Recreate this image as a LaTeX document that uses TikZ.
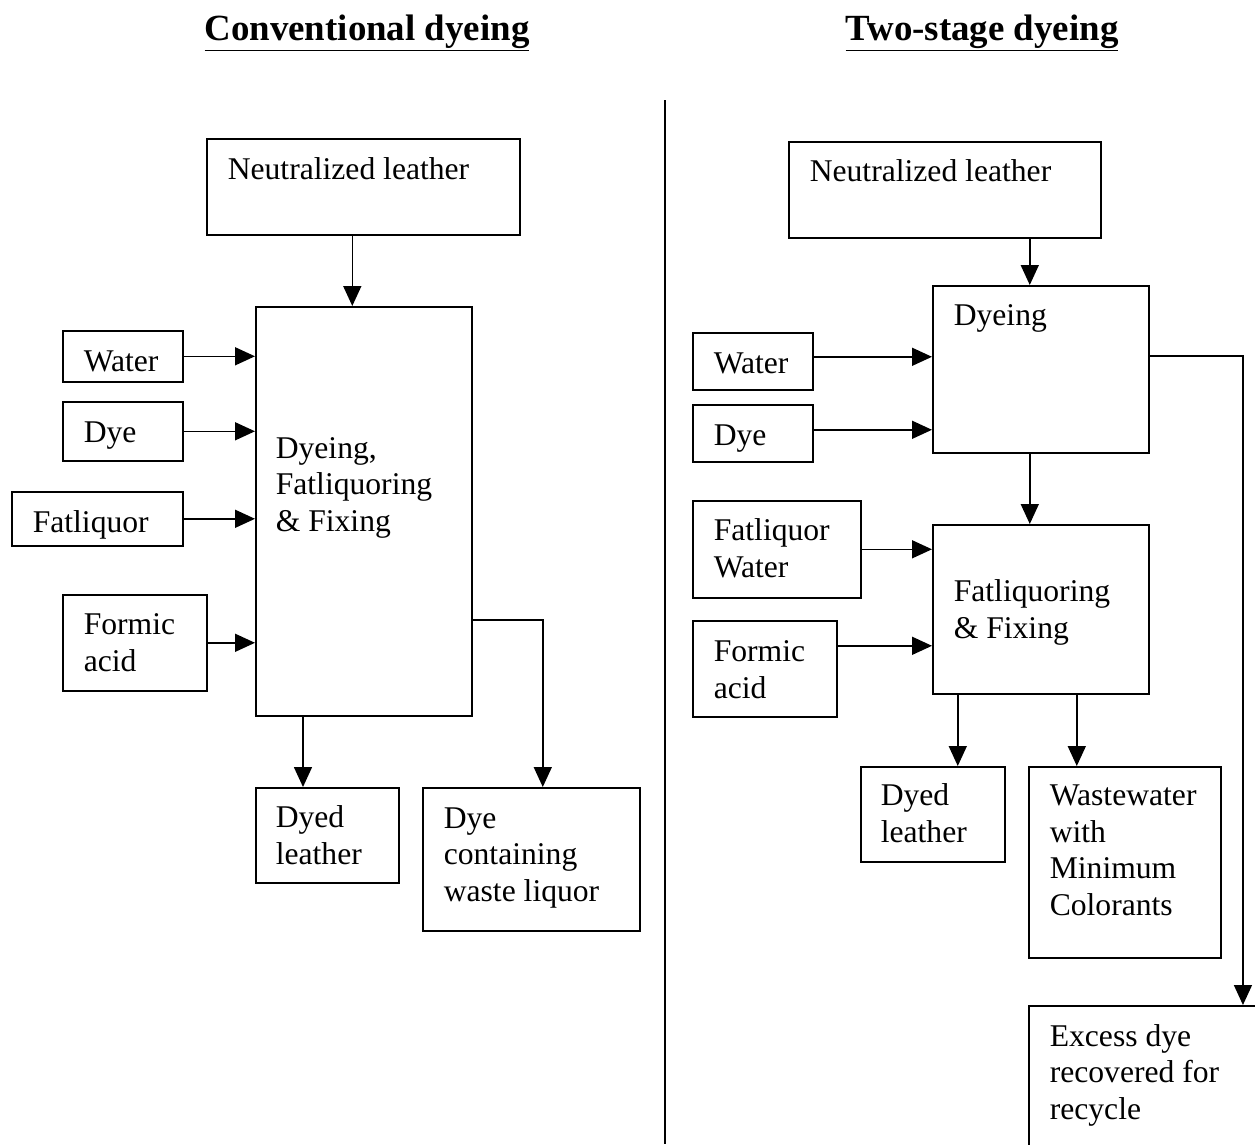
\documentclass[tikz,border=0pt]{standalone}
\usepackage{fontspec}
\setmainfont{Liberation Serif}
\usetikzlibrary{arrows.meta}

\begin{document}
\begin{tikzpicture}
  [x=0.02cm, y=-0.02cm, line width=0.9pt,
    box/.style 2 args={draw, anchor=north west, inner sep=0pt,
    minimum width=#1*0.02cm, minimum height=#2*0.02cm},
    txt/.style={anchor=base west, inner sep=0pt, align=left,
    font=\fontsize{18}{20.7}\selectfont},
    ttl/.style={anchor=base, inner sep=0pt,
    font=\fontsize{21}{24}\selectfont\bfseries},
    arr/.style={-{Triangle[length=0.4cm, width=0.36cm]}}]
  \useasboundingbox (0,0) rectangle (1255,1144);
  \clip (0,0) rectangle (1255,1144);

  % titles and divider
  \node[ttl] (conv) at (367,40) {\underline{Conventional dyeing}};
  \node[ttl] (two) at (982,40) {\underline{Two-stage dyeing}};
  \coordinate (divtop) at (665,100);
  \coordinate (divbot) at (665,1144);
  \draw (divtop) -- (divbot);

  % conventional dyeing (text nodes sit on the baseline of their last line)
  \node[box={313}{96}] (nl1) at (206,138) {};
  \node[txt] (nl1t) at (227,179) {Neutralized leather};
  \node[box={216}{409}] (main1) at (255,306) {};
  \node[txt] (main1t) at (275,531) {Dyeing,\\Fatliquoring\\\& Fixing};
  \node[box={120}{51}] (water1) at (62,330) {};
  \node[txt] (water1t) at (83,371) {Water};
  \node[box={120}{59}] (dye1) at (62,401) {};
  \node[txt] (dye1t) at (83,442) {Dye};
  \node[box={171}{54}] (fat1) at (11,491) {};
  \node[txt] (fat1t) at (32,532) {Fatliquor};
  \node[box={144}{96}] (formic1) at (62,594) {};
  \node[txt] (formic1t) at (83,671) {Formic\\acid};
  \node[box={143}{95}] (dyed1) at (255,787) {};
  \node[txt] (dyed1t) at (275,864) {Dyed\\leather};
  \node[box={217}{143}] (waste1) at (422,787) {};
  \node[txt] (waste1t) at (443,901) {Dye\\containing\\waste liquor};

  \draw[arr] ([xshift=-0.22cm]nl1.south) -- ([xshift=-0.22cm]nl1.south |- main1.north);
  \draw[arr] (water1.east) -- (water1.east -| main1.west);
  \draw[arr] (dye1.east) -- (dye1.east -| main1.west);
  \draw[arr] (fat1.east) -- (fat1.east -| main1.west);
  \draw[arr] (formic1.east) -- (formic1.east -| main1.west);
  \draw[arr] ([xshift=0.96cm]main1.south west) -- ([xshift=0.96cm]main1.south west |- dyed1.north);
  \draw[arr] ([yshift=-2.17cm]main1.east) -| ([xshift=0.23cm]waste1.north);

  % two-stage dyeing
  \node[box={312}{96}] (nl2) at (788,141) {};
  \node[txt] (nl2t) at (809,181) {Neutralized leather};
  \node[box={216}{167}] (dyeing2) at (932,285) {};
  \node[txt] (dyeing2t) at (953,325) {Dyeing};
  \node[box={120}{57}] (water2) at (692,332) {};
  \node[txt] (water2t) at (713,373) {Water};
  \node[box={120}{57}] (dye2) at (692,404) {};
  \node[txt] (dye2t) at (713,445) {Dye};
  \node[box={216}{169}] (fix2) at (932,524) {};
  \node[txt] (fix2t) at (953,638) {Fatliquoring\\\& Fixing};
  \node[box={168}{97}] (fat2) at (692,500) {};
  \node[txt] (fat2t) at (713,577) {Fatliquor\\Water};
  \node[box={144}{96}] (formic2) at (692,620) {};
  \node[txt] (formic2t) at (713,698) {Formic\\acid};
  \node[box={144}{95}] (dyed2) at (860,766) {};
  \node[txt] (dyed2t) at (880,842) {Dyed\\leather};
  \node[box={192}{191}] (wastew2) at (1028,766) {};
  \node[txt] (wastew2t) at (1049,915) {Wastewater\\with\\Minimum\\Colorants};
  \node[box={250}{200}] (excess2) at (1028,1005) {};
  \node[txt] (excess2t) at (1049,1119) {Excess dye\\recovered for\\recycle};

  \draw[arr] ([xshift=1.7cm]nl2.south) -- ([xshift=1.7cm]nl2.south |- dyeing2.north);
  \draw[arr] ([yshift=0.09cm]water2.east) -- ([yshift=0.09cm]water2.east -| dyeing2.west);
  \draw[arr] ([yshift=0.07cm]dye2.east) -- ([yshift=0.07cm]dye2.east -| dyeing2.west);
  \draw[arr] ([xshift=-0.22cm]dyeing2.south) -- ([xshift=-0.22cm]fix2.north);
  \draw[arr] (fat2.east) -- (fat2.east -| fix2.west);
  \draw[arr] ([yshift=0.46cm]formic2.east) -- ([yshift=0.46cm]formic2.east -| fix2.west);
  \draw[arr] ([xshift=0.5cm]dyed2.north |- fix2.south) -- ([xshift=0.5cm]dyed2.north);
  \draw[arr] ([xshift=-0.96cm]wastew2.north |- fix2.south) -- ([xshift=-0.96cm]wastew2.north);
  \draw[arr] ([yshift=0.27cm]dyeing2.east) -| ([xshift=4.3cm]excess2.north west);
\end{tikzpicture}
\end{document}
